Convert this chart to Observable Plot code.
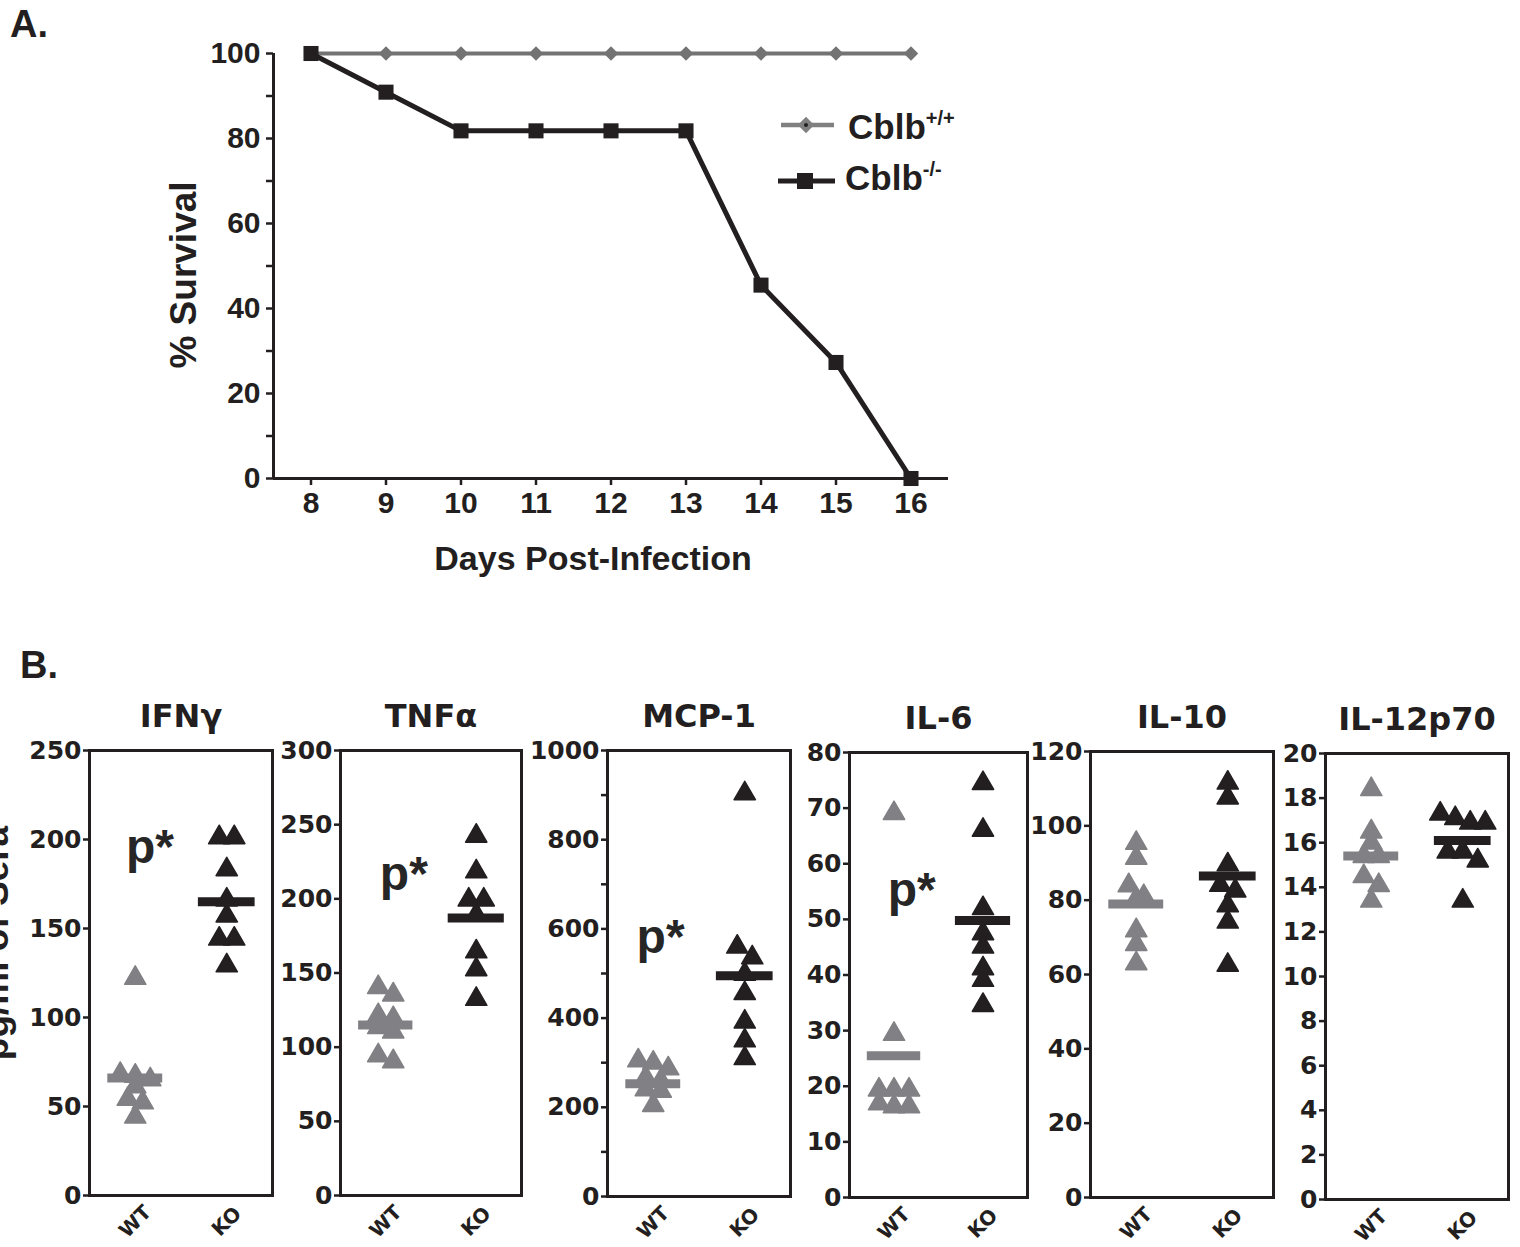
<!DOCTYPE html>
<html>
<head>
<meta charset="utf-8">
<script src="https://cdn.jsdelivr.net/npm/d3@7"></script>
<script src="https://cdn.jsdelivr.net/npm/@observablehq/plot@0.6"></script>
<style>
html, body { margin: 0; padding: 0; background: #fff; }
#root { position: relative; width: 1520px; height: 1247px; overflow: hidden; background: #fff; }
</style>
</head>
<body>
<div id="root"></div>
<script>
// ---------- Panel A data ----------
const days = [8, 9, 10, 11, 12, 13, 14, 15, 16];
const survivalWT = [100, 100, 100, 100, 100, 100, 100, 100, 100];
const survivalKO = [100, 90.9, 81.8, 81.8, 81.8, 81.8, 45.5, 27.3, 0];
const seriesNames = ["Cblb+/+", "Cblb-/-"];
const survivalTicks = [0, 10, 20, 30, 40, 50, 60, 70, 80, 90, 100];

// ---------- Panel B data ----------
const cytokines = ["IFNγ", "TNFα", "MCP-1", "IL-6", "IL-10", "IL-12p70"];
const groups = ["WT", "KO"];
const wtValues = [
  [121, 67, 66, 64, 60, 53, 51, 43],
  [139, 134, 120, 118, 112, 109, 93, 89],
  [300, 295, 282, 262, 255, 235, 232, 200],
  [68.7, 29, 19, 19, 19, 16.5, 16, 16],
  [94.8, 90.8, 83.4, 80.5, 79.8, 71.3, 67.6, 62.4],
  [18.3, 16.4, 15.9, 15.3, 15.3, 14.4, 14.0, 13.3]
];
const koValues = [
  [200, 200, 182, 165, 156, 143, 143, 128],
  [241, 217, 198, 198, 188, 163, 151, 131],
  [899, 555, 531, 494, 451, 387, 345, 305],
  [74.1, 65.7, 51.6, 47.1, 44.7, 40.8, 38.7, 34.2],
  [111, 107, 89, 83.5, 82, 78, 73.6, 62],
  [17.2, 17.0, 16.8, 16.8, 15.5, 15.5, 15.1, 13.3]
];
const wtMeans = [66, 115, 253, 25.5, 79, 15.4];
const koMeans = [165, 187, 495, 49.8, 86.5, 16.1];
const yMax = [250, 300, 1000, 80, 120, 20];
const yLabelStep = [50, 50, 200, 10, 20, 2];
const yTickStep = [50, 50, 100, 10, 20, 2];
const pLabels = [
  {label: "p*", x: 0.33, y: 187},
  {label: "p*", x: 0.35, y: 206},
  {label: "p*", x: 0.29, y: 546},
  {label: "p*", x: 0.35, y: 52.4},
  null,
  null
];
const yAxisTitleB = "pg/ml of Sera";

// ---------- layout & style ----------
const BLACK = "#231f20";
const GRAY_A = "#737373";
const GRAY_B = "#818185";
const FONT_A = '"Liberation Sans", Arial, sans-serif';
const FONT_B = '"DejaVu Sans", "Liberation Sans", sans-serif';
const root = document.getElementById("root");

function place(el, left, top) {
  el.style.position = "absolute";
  el.style.left = left + "px";
  el.style.top = top + "px";
  root.appendChild(el);
}

// ---------- Panel A ----------
const survData = days.flatMap((d, i) => [
  {day: d, pct: survivalWT[i], series: seriesNames[0]},
  {day: d, pct: survivalKO[i], series: seriesNames[1]}
]);
const wtSurv = survData.filter(d => d.series === seriesNames[0]);
const koSurv = survData.filter(d => d.series === seriesNames[1]);

const plotA = Plot.plot({
  width: 1000,
  height: 620,
  marginLeft: 273,
  marginRight: 52,
  marginTop: 53,
  marginBottom: 620 - 478,
  x: {domain: [7.5, 16.5]},
  y: {domain: [0, 100]},
  style: {background: "transparent", fontFamily: FONT_A, fontWeight: "bold", fontSize: "29px", color: BLACK, overflow: "visible", maxWidth: "none"},
  marks: [
    Plot.axisY({ticks: survivalTicks, tickFormat: d => (d % 20 === 0 ? String(d) : ""), tickSize: 7, tickPadding: 6, fontSize: 30, strokeWidth: 2.5, label: null}),
    Plot.axisX({ticks: days, tickSize: 7, tickPadding: 6, fontSize: 30, strokeWidth: 2.5, label: null}),
    Plot.ruleX([7.5], {stroke: BLACK, strokeWidth: 3}),
    Plot.ruleY([0], {stroke: BLACK, strokeWidth: 3}),
    Plot.line(wtSurv, {x: "day", y: "pct", stroke: GRAY_A, strokeWidth: 4}),
    Plot.dot(wtSurv, {x: "day", y: "pct", symbol: "diamond2", r: 6.5, fill: GRAY_A}),
    Plot.line(koSurv, {x: "day", y: "pct", stroke: BLACK, strokeWidth: 5}),
    Plot.dot(koSurv, {x: "day", y: "pct", symbol: "square", r: 8.5, fill: BLACK}),
    Plot.text(["% Survival"], {text: d => d, frameAnchor: "left", rotate: -90, dx: -89, dy: 9, fontSize: 37, textAnchor: "middle", lineAnchor: "middle", fill: BLACK}),
    Plot.text(["Days Post-Infection"], {text: d => d, frameAnchor: "bottom", dx: -18, dy: 91, fontSize: 34, textAnchor: "middle", lineAnchor: "bottom", fill: BLACK})
  ]
});
place(plotA, 0, 0);

// ---------- Panel B ----------
const frames = [
  {L: 89, R: 272, T: 750, B: 1195},
  {L: 340, R: 521, T: 750, B: 1195},
  {L: 607, R: 790, T: 750, B: 1196},
  {L: 849, R: 1027, T: 752, B: 1197},
  {L: 1090, R: 1273, T: 751, B: 1197},
  {L: 1325, R: 1508, T: 753, B: 1199}
];
const xPos = {WT: 0.25, KO: 0.75};

cytokines.forEach((name, k) => {
  const f = frames[k];
  const mL = 88, mR = 8, top = 660;
  const w = f.R - f.L, h = f.B - f.T;
  const W = w + mL + mR, H = 1247 - top;
  // simple beeswarm: points closer than ~11px vertically share a row and are spread horizontally
  const pts = [];
  [["WT", wtValues[k]], ["KO", koValues[k]]].forEach(([g, vals]) => {
    const sorted = vals.slice().sort((a, b) => b - a);
    const rows = [];
    sorted.forEach(v => {
      const py = h * (1 - v / yMax[k]);
      const last = rows[rows.length - 1];
      if (last && Math.abs(py - last.py0) < 11) last.items.push(v);
      else rows.push({py0: py, items: [v]});
    });
    rows.forEach(r => r.items.forEach((v, i) => {
      pts.push({group: g, value: v, pos: xPos[g] + (i - (r.items.length - 1) / 2) * 15 / w});
    }));
  });
  const means = [{group: "WT", v: wtMeans[k]}, {group: "KO", v: koMeans[k]}];
  const ticks = d3.range(0, yMax[k] + 1e-9, yTickStep[k]);
  const marks = [
    Plot.frame({stroke: BLACK, strokeWidth: 3}),
    Plot.axisY({ticks, tickFormat: d => (Math.abs(d % yLabelStep[k]) < 1e-9 ? String(d) : ""), tickSize: 6, tickPadding: 2, fontSize: 25, strokeWidth: 2.5, label: null}),
    Plot.dot(pts.filter(d => d.group === "WT"), {x: "pos", y: "value", symbol: "triangle", r: 7.9, fill: GRAY_B, stroke: GRAY_B, strokeWidth: 1.5, strokeLinejoin: "round", dy: -2}),
    Plot.dot(pts.filter(d => d.group === "KO"), {x: "pos", y: "value", symbol: "triangle", r: 7.9, fill: BLACK, stroke: BLACK, strokeWidth: 1.5, strokeLinejoin: "round", dy: -2}),
    Plot.ruleY(means.filter(d => d.group === "WT"), {y: "v", x1: d => xPos[d.group] - 0.15, x2: d => xPos[d.group] + 0.15, stroke: GRAY_B, strokeWidth: 9}),
    Plot.ruleY(means.filter(d => d.group === "KO"), {y: "v", x1: d => xPos[d.group] - 0.155, x2: d => xPos[d.group] + 0.155, stroke: BLACK, strokeWidth: 9}),
    Plot.text([name], {text: d => d, frameAnchor: "top", dy: -24, textAnchor: "middle", lineAnchor: "bottom", fontSize: 32, fill: BLACK}),
    Plot.text(groups, {text: d => d, x: d => xPos[d], frameAnchor: "bottom", dy: 26, rotate: -45, textAnchor: "middle", lineAnchor: "middle", fontSize: 20, fill: BLACK})
  ];
  if (pLabels[k]) {
    marks.push(Plot.text([pLabels[k]], {x: "x", y: "y", text: "label", fontSize: 48, fontFamily: FONT_A, fontWeight: "bold", textAnchor: "middle", lineAnchor: "bottom", fill: "#262626"}));
  }
  const p = Plot.plot({
    width: W,
    height: H,
    marginLeft: mL,
    marginRight: mR,
    marginTop: f.T - top,
    marginBottom: 1247 - f.B,
    x: {domain: [0, 1], axis: null},
    y: {domain: [0, yMax[k]]},
    style: {background: "transparent", fontFamily: FONT_B, fontWeight: "bold", fontSize: "25px", color: BLACK, overflow: "visible", maxWidth: "none"},
    marks
  });
  place(p, f.L - mL, top);
});

// ---------- overlay: panel letters, legend, cut-off B axis title ----------
const ov = d3.create("svg").attr("width", 1520).attr("height", 1247)
  .style("pointer-events", "none").style("overflow", "hidden");
const tx = ov.append("g").attr("font-family", FONT_A).attr("font-weight", "bold").attr("fill", BLACK);
tx.append("text").attr("x", 10).attr("y", 37).attr("font-size", 38).text("A.");
tx.append("text").attr("x", 20).attr("y", 678).attr("font-size", 38).text("B.");
tx.append("text").attr("transform", "translate(8,943) rotate(-90)").attr("text-anchor", "middle")
  .attr("font-size", 37).text(yAxisTitleB);

// legend
const leg = ov.append("g");
const legendRows = [
  {name: "Cblb", sup: "+/+", y: 125, x1: 781, x2: 834, mx: 806, tx: 848, ty: 138.5, color: "#808080", sym: "diamond"},
  {name: "Cblb", sup: "-/-", y: 181, x1: 778, x2: 835, mx: 805, tx: 845, ty: 190, color: BLACK, sym: "square"}
];
legendRows.forEach(r => {
  leg.append("line").attr("x1", r.x1).attr("x2", r.x2).attr("y1", r.y).attr("y2", r.y)
    .attr("stroke", r.color).attr("stroke-width", r.sym === "square" ? 5 : 4.5);
  if (r.sym === "diamond") {
    leg.append("path").attr("d", d3.symbol(d3.symbolDiamond2, 170)()).attr("transform", `translate(${r.mx},${r.y})`).attr("fill", r.color);
    leg.append("circle").attr("cx", r.mx).attr("cy", r.y).attr("r", 2).attr("fill", BLACK);
  } else {
    leg.append("rect").attr("x", r.mx - 8).attr("y", r.y - 8).attr("width", 16).attr("height", 16).attr("fill", r.color);
  }
  const t = leg.append("text").attr("x", r.tx).attr("y", r.ty).attr("font-family", FONT_A)
    .attr("font-weight", "bold").attr("font-size", 35).attr("fill", BLACK);
  t.append("tspan").text(r.name);
  t.append("tspan").attr("font-size", 20).attr("dy", -14).text(r.sup);
});
place(ov.node(), 0, 0);
</script>
</body>
</html>
